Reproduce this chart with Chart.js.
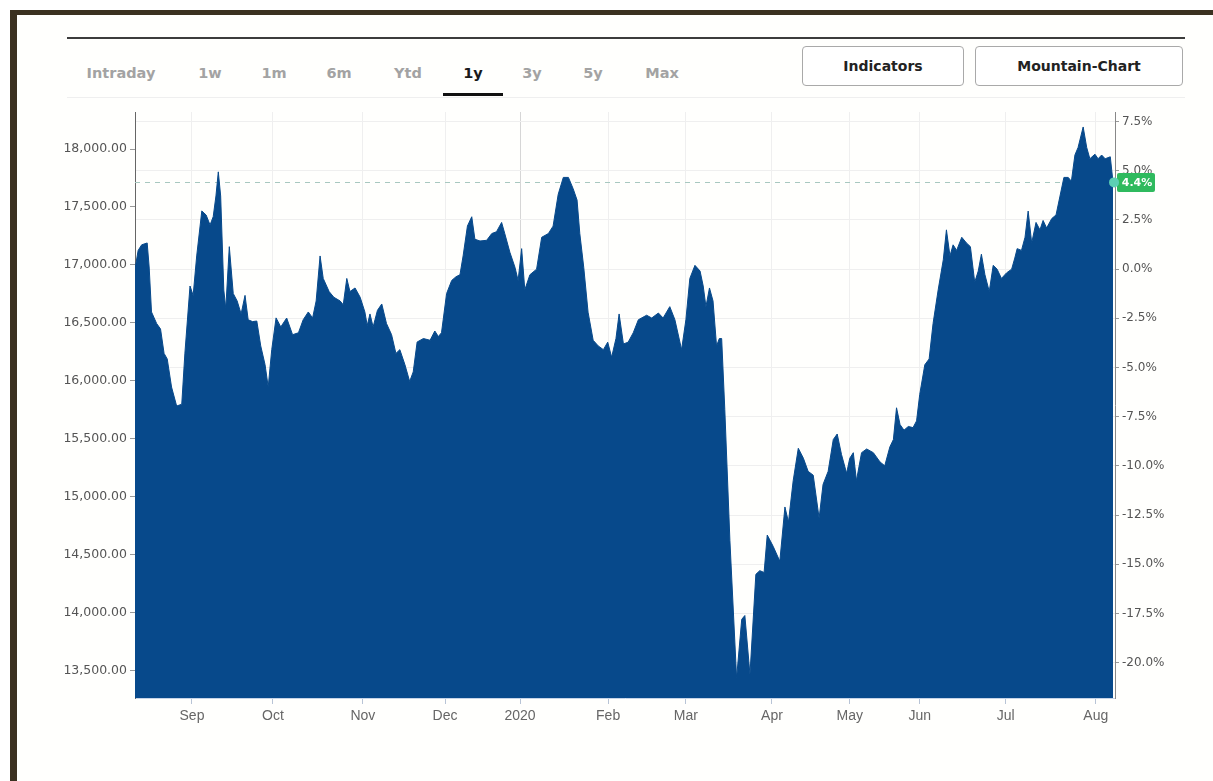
<!DOCTYPE html>
<html><head><meta charset="utf-8">
<script src="https://cdn.jsdelivr.net/npm/chart.js@4.4.0/dist/chart.umd.min.js"></script>
<style>
html,body{margin:0;padding:0;background:#fff;}
body{width:1213px;height:781px;position:relative;overflow:hidden;font-family:"DejaVu Sans",sans-serif;}
#frameTop{position:absolute;left:10px;top:10px;width:1203px;height:5px;background:#3b3120;}
#frameLeft{position:absolute;left:10px;top:10px;width:7px;height:771px;background:#3b3120;}
#inner{position:absolute;left:17px;top:15px;right:0;bottom:0;background:#fffffd;}
#topLine{position:absolute;left:67px;top:37px;width:1118px;height:2px;background:#3c3c3c;}
#tabLine{position:absolute;left:67px;top:97px;width:1118px;height:1px;background:#efefef;}
.tab{position:absolute;top:65px;font:bold 14.5px "DejaVu Sans";color:#a3a3a3;transform:translateX(-50%);white-space:nowrap;}
.tab.active{color:#1a1a1a;}
#ul{position:absolute;left:443px;top:93px;width:60px;height:3px;background:#111;}
.btn{position:absolute;top:46px;height:40px;border:1px solid #a9a9a9;border-radius:4px;background:#fff;box-sizing:border-box;font:bold 14px "DejaVu Sans";color:#222;display:flex;align-items:center;justify-content:center;}
#c{position:absolute;left:40px;top:100px;}
</style></head>
<body>
<div id="frameTop"></div><div id="frameLeft"></div><div id="inner"></div>
<div id="topLine"></div><div id="tabLine"></div>
<div class="tab" style="left:121px">Intraday</div>
<div class="tab" style="left:210px">1w</div>
<div class="tab" style="left:274px">1m</div>
<div class="tab" style="left:339px">6m</div>
<div class="tab" style="left:408px">Ytd</div>
<div class="tab active" style="left:473px">1y</div>
<div class="tab" style="left:532px">3y</div>
<div class="tab" style="left:593px">5y</div>
<div class="tab" style="left:662px">Max</div>
<div id="ul"></div>
<div class="btn" style="left:802px;width:162px">Indicators</div>
<div class="btn" style="left:975px;width:208px">Mountain-Chart</div>
<canvas id="c" width="1140" height="640"></canvas>
<script>
// trading-day index (0 = first day shown) and index level
const xDays = [0,0.8,1.7,3.1,3.6,4.2,5.5,6.5,7.4,8.2,9.3,10.6,11.9,12.7,14.0,14.8,15.7,17.0,18.1,19.1,19.9,20.6,21.2,21.8,22.6,23.1,24.0,25.0,26.0,27.0,28.0,28.8,29.9,31.0,32.0,33.1,33.9,34.8,35.9,37.1,38.6,40.1,41.6,42.8,44.1,45.2,46.1,47.1,47.9,49.4,50.6,52.2,53.0,53.9,54.7,56.0,57.3,58.5,59.1,59.8,60.6,61.7,62.8,64.0,65.3,66.4,67.4,68.7,69.9,70.8,71.8,73.4,75.1,76.3,77.2,78.0,79.3,80.6,81.7,82.7,83.5,84.6,
85.7,86.5,87.8,89.5,90.8,92.0,93.3,94.1,95.4,96.7,97.5,98.4,99.2,100.5,102.2,103.5,105.2,106.4,107.7,109.0,110.3,111.5,112.5,113.2,114.2,115.3,116.6,117.9,119.2,120.3,121.3,122.4,123.2,124.3,125.5,126.8,128.1,130.2,131.5,133.2,134.4,136.1,137.4,139.1,140.2,141.2,142.5,143.8,144.6,145.3,146.2,147.1,148.0,148.7,149.3,150.1,151.4,153.1,154.4,155.2,156.5,158.0,159.0,160.1,160.9,162.4,164.1,165.4,166.3,167.5,168.8,
170.1,171.3,172.6,174.1,175.1,176.4,177.7,178.7,179.8,181.1,181.9,182.8,183.6,184.9,186.2,187.9,189.6,190.8,192.1,193.0,193.8,194.7,195.7,196.8,198.0,198.9,199.7,201.0,202.1,203.1,204.4,205.7,206.5,207.4,208.2,209.1,210.4,211.6,212.6,213.7,214.6,215.4,216.3,217.4,218.4,219.4,220.5,221.8,223.1,223.9,224.5,225.6,226.5,227.3,228.2,229.3,230.3,231.1,232.0,233.3,234.4,235.4,236.4,237.5,238.3,239.2,240.0,241.3,242.2,243.0,244.3,245.1,246.0,246.9,248.2,248.9];
const values = [16965,17126,17174,17190,16983,16595,16496,16448,16238,16190,15948,15784,15800,16240,16819,16738,17078,17466,17431,17345,17416,17595,17803,17595,16784,16625,17158,16754,16690,16578,16738,16528,16512,16517,16302,16140,15948,16270,16544,16466,16543,16399,16416,16528,16595,16544,16690,17078,16884,16771,16722,16690,16657,16884,16771,16802,16722,16595,16479,16578,16466,16609,16664,16496,16399,16238,16270,16140,15996,16078,16336,16366,16351,16431,16383,16416,16754,16867,16899,16916,17078,17336,
17416,17222,17207,17213,17271,17287,17367,17271,17110,16980,16867,17141,16786,16916,16964,17239,17271,17335,17609,17755,17755,17658,17560,17271,16980,16593,16351,16302,16270,16335,16205,16366,16578,16319,16335,16416,16528,16567,16543,16586,16543,16641,16528,16270,16528,16884,16997,16948,16819,16641,16802,16690,16302,16366,16366,15753,14623,13440,13945,13978,13470,14333,14365,14349,14672,14575,14446,14914,14784,15140,15420,
15334,15221,15188,14817,15108,15221,15495,15543,15366,15204,15334,15382,15140,15382,15414,15382,15302,15269,15431,15495,15769,15624,15576,15608,15598,15656,15883,16140,16190,16496,16786,17045,17303,17078,17174,17126,17239,17190,17158,16851,16948,17093,16916,16771,16997,16964,16884,16932,16964,17060,17141,17126,17239,17465,17190,17367,17303,17384,17319,17400,17432,17594,17755,17755,17722,17948,18013,18190,18013,17916,17955,17916,17948,17916,17933,17712];
const monthLabels = ['Sep','Oct','Nov','Dec','2020','Feb','Mar','Apr','May','Jun','Jul','Aug'];
const monthStarts = [14.5,35.1,58.0,78.9,98.0,120.4,140.2,162.1,181.9,199.7,221.6,244.5];
const levelTicks = [13500,14000,14500,15000,15500,16000,16500,17000,17500,18000];
const pctTicks = [-20,-17.5,-15,-12.5,-10,-7.5,-5,-2.5,0,2.5,5,7.5];
const xMax = 249.4;
const yMin = 13267, yMax = 18319;
const baseValue = values[0];
const pct = v => (v / baseValue - 1) * 100;
const lastValue = values[values.length - 1];
const lastPct = pct(lastValue);

const AREA = '#07498b';

const lastMarker = {
  id: 'lastMarker',
  beforeDatasetsDraw(chart) {
    const {ctx, chartArea: a, scales: {y}} = chart;
    const py = Math.round(y.getPixelForValue(lastValue)) + 0.5;
    ctx.save();
    ctx.setLineDash([5, 5]);
    ctx.strokeStyle = '#a8c8c0';
    ctx.lineWidth = 1;
    ctx.beginPath(); ctx.moveTo(a.left, py); ctx.lineTo(a.right, py); ctx.stroke();
    ctx.restore();
  },
  afterDraw(chart) {
    const {ctx, chartArea: a, scales: {x, y}} = chart;
    const py = y.getPixelForValue(lastValue);
    const px = x.getPixelForValue(xDays[xDays.length - 1]);
    ctx.save();
    ctx.fillStyle = '#2fba5e';
    ctx.beginPath();
    ctx.roundRect(a.right + 2, py - 9.5, 38, 19, 2);
    ctx.fill();
    ctx.fillStyle = '#ffffff';
    ctx.font = 'bold 11px "DejaVu Sans"';
    ctx.textAlign = 'center'; ctx.textBaseline = 'middle';
    ctx.fillText(lastPct.toFixed(1) + '%', a.right + 22, py + 0.5);
    ctx.fillStyle = '#5ccfb3';
    ctx.beginPath(); ctx.arc(px + 1, py, 5, 0, Math.PI * 2); ctx.fill();
    ctx.restore();
  }
};

new Chart(document.getElementById('c'), {
  type: 'line',
  data: {
    datasets: [{
      data: xDays.map((d, i) => ({x: d, y: values[i]})),
      borderColor: AREA,
      backgroundColor: AREA,
      borderWidth: 1,
      fill: 'start',
      pointRadius: 0,
      tension: 0,
      xAxisID: 'x',
      yAxisID: 'y'
    }]
  },
  options: {
    responsive: false,
    animation: false,
    events: [],
    layout: {padding: {top: 12, left: 0, right: 0, bottom: 0}},
    plugins: {legend: {display: false}, tooltip: {enabled: false}},
    scales: {
      x: {
        type: 'linear', position: 'bottom', min: 0, max: xMax,
        afterBuildTicks: s => { s.ticks = monthStarts.map(v => ({value: v})); },
        afterFit: s => { s.height = 42; },
        ticks: {
          callback: (v, i) => monthLabels[i],
          autoSkip: false, maxRotation: 0, color: '#666',
          font: {family: '"Liberation Sans"', size: 14}, padding: 4
        },
        grid: {
          color: ctx => monthLabels[ctx.index] === '2020' ? '#d6d6d6' : '#efefef',
          tickColor: '#b8c4d6', tickLength: 6
        },
        border: {color: '#c6d4e8'}
      },
      y: {
        type: 'linear', position: 'left', min: yMin, max: yMax,
        afterBuildTicks: s => { s.ticks = levelTicks.map(v => ({value: v})); },
        afterFit: s => { s.width = 95; },
        ticks: {
          autoSkip: false, padding: 3, color: '#555',
          font: {family: '"DejaVu Sans"', size: 12.5},
          callback: v => v.toLocaleString('en-US', {minimumFractionDigits: 2, maximumFractionDigits: 2})
        },
        grid: {drawOnChartArea: false, tickLength: 5, tickColor: '#999'},
        border: {color: '#666'}
      },
      y2: {
        type: 'linear', position: 'right', min: pct(yMin), max: pct(yMax),
        afterBuildTicks: s => { s.ticks = pctTicks.map(v => ({value: v})); },
        afterFit: s => { s.width = 65; },
        ticks: {
          autoSkip: false, padding: 3, color: '#555',
          font: {family: '"DejaVu Sans"', size: 12},
          callback: v => v.toFixed(1) + '%'
        },
        grid: {color: '#efefef', tickLength: 4, tickColor: '#999'},
        border: {color: '#888'}
      }
    }
  },
  plugins: [lastMarker]
});
</script>
</body></html>
